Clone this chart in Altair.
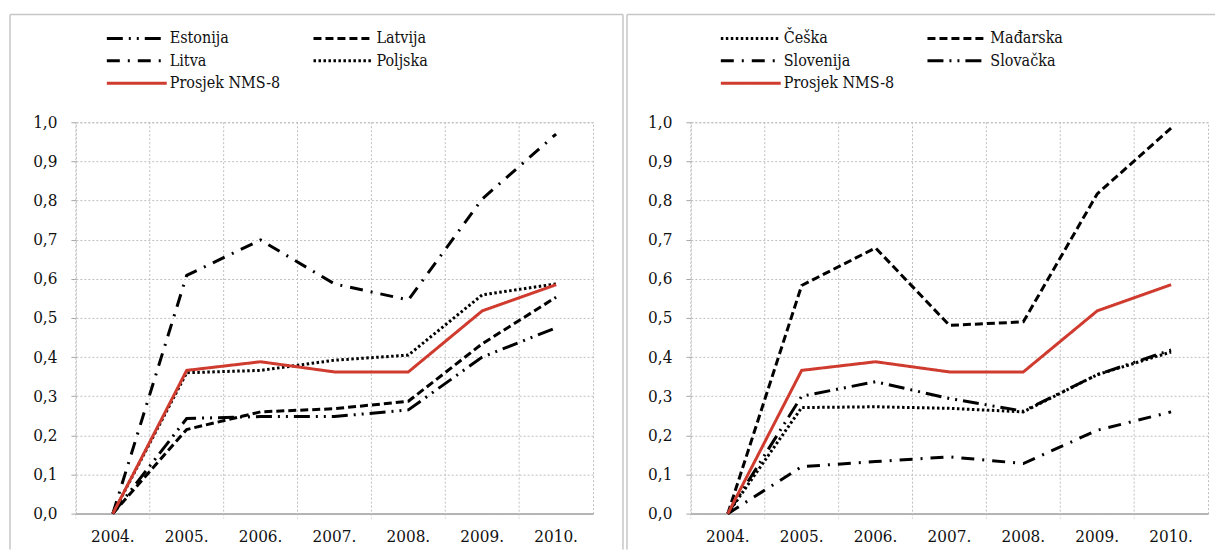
import altair as alt
import pandas as pd

years = ["2004.", "2005.", "2006.", "2007.", "2008.", "2009.", "2010."]

# Left panel series
estonija = [0.0, 0.243, 0.248, 0.248, 0.265, 0.400, 0.475]
latvija = [0.0, 0.215, 0.260, 0.268, 0.287, 0.434, 0.553]
litva = [0.0, 0.609, 0.699, 0.587, 0.546, 0.804, 0.970]
poljska = [0.0, 0.360, 0.366, 0.392, 0.405, 0.559, 0.587]
prosjek = [0.0, 0.366, 0.388, 0.362, 0.362, 0.518, 0.585]

# Right panel series
ceska = [0.0, 0.271, 0.273, 0.269, 0.260, 0.355, 0.413]
madarska = [0.0, 0.583, 0.679, 0.481, 0.490, 0.817, 0.985]
slovenija = [0.0, 0.120, 0.133, 0.145, 0.128, 0.213, 0.260]
slovacka = [0.0, 0.300, 0.337, 0.294, 0.262, 0.355, 0.418]

left_names = ["Estonija", "Latvija", "Litva", "Poljska", "Prosjek NMS-8"]
left_series = [estonija, latvija, litva, poljska, prosjek]
right_names = ["Češka", "Mađarska", "Slovenija", "Slovačka", "Prosjek NMS-8"]
right_series = [ceska, madarska, slovenija, slovacka, prosjek]

RED = "#cf3b2e"
BLACK = "#000000"
DASH_LDD = [16, 6, 2, 6, 2, 6]
DASH_D = [8, 4]
DASH_DD = [13, 8, 2, 8]
DASH_DOT = [2.5, 2.5]
SOLID = [1, 0]

left_dashes = [DASH_LDD, DASH_D, DASH_DD, DASH_DOT, SOLID]
right_dashes = [DASH_DOT, DASH_D, DASH_DD, DASH_LDD, SOLID]

LEG_FONT = "DejaVu Serif Condensed, DejaVu Serif"
AX_FONT = "DejaVu Serif Condensed, DejaVu Serif"
GRID = "#bfbfbf"
W, H = 518, 392

# legend fills columns first: order entries so rows read pairwise
LEG_ORDER = [0, 2, 4, 1, 3]


def panel(names, series, dashes, legend_x, frame):
    rows = []
    for n, vals in zip(names, series):
        for yr, v in zip(years, vals):
            rows.append({"serija": n, "godina": yr, "vrijednost": v})
    df = pd.DataFrame(rows)

    colors = [BLACK] * 4 + [RED]
    dom = [names[i] for i in LEG_ORDER]
    col_range = [colors[i] for i in LEG_ORDER]
    dash_range = [dashes[i] for i in LEG_ORDER]

    xscale = alt.Scale(type="band", paddingInner=0, paddingOuter=0)
    xaxis = alt.Axis(
        labelAngle=0, grid=False, ticks=False, domain=True,
        domainColor="#a6a6a6", domainWidth=1.5, labelPadding=15,
        labelFont=AX_FONT, labelFontSize=17, labelColor="#111111",
    )
    legend = alt.Legend(
        orient="none", legendX=legend_x, legendY=-92, columns=2,
        columnPadding=25, rowPadding=6.5, symbolType="M0,0H60", symbolSize=4,
        symbolStrokeWidth=3, labelOffset=55, labelFontSize=16, labelFont=LEG_FONT,
        labelColor="#111111", title=None,
    )

    lines = alt.Chart(df).mark_line(strokeWidth=3).encode(
        x=alt.X("godina:O", sort=years, scale=xscale, title=None, axis=xaxis),
        y=alt.Y(
            "vrijednost:Q", title=None,
            scale=alt.Scale(domain=[0, 1], nice=False, zero=True),
            axis=alt.Axis(
                values=[i / 10 for i in range(11)],
                labelExpr="replace(format(datum.value, '.1f'), '.', ',')",
                grid=True, gridColor=GRID, gridDash=[2, 2], gridWidth=1,
                domain=False, ticks=True, tickSize=5, tickColor="#a6a6a6",
                labelPadding=14, labelFont=AX_FONT, labelFontSize=17,
                labelColor="#111111",
            ),
        ),
        color=alt.Color(
            "serija:N",
            scale=alt.Scale(domain=dom, range=col_range),
            legend=legend,
        ),
        strokeDash=alt.StrokeDash(
            "serija:N",
            scale=alt.Scale(domain=dom, range=dash_range),
            legend=legend,
        ),
    )

    grid_df = pd.DataFrame({"godina": years})
    vgrid = alt.Chart(grid_df).mark_rule(
        color=GRID, strokeDash=[2, 2], strokeWidth=1
    ).encode(
        x=alt.X("godina:O", sort=years, scale=xscale, bandPosition=0, title=None, axis=xaxis),
        y=alt.value(0), y2=alt.value(H + 5),
    )

    one = pd.DataFrame({"a": [0]})
    fx0, fx1, fy0, fy1, sides = frame
    frame_layers = []
    frame_layers.append(
        alt.Chart(one).mark_rule(color="#c6c6c6", strokeWidth=1.5).encode(
            x=alt.value(fx0), x2=alt.value(fx1), y=alt.value(fy0)
        )
    )
    frame_layers.append(
        alt.Chart(one).mark_rule(color="#c6c6c6", strokeWidth=1.5).encode(
            x=alt.value(fx0), y=alt.value(fy0), y2=alt.value(fy1)
        )
    )
    if sides:
        frame_layers.append(
            alt.Chart(one).mark_rule(color="#c6c6c6", strokeWidth=1.5).encode(
                x=alt.value(fx1), y=alt.value(fy0), y2=alt.value(fy1)
            )
        )

    return alt.layer(vgrid, lines, *frame_layers).properties(width=W, height=H)


left = panel(left_names, left_series, left_dashes, 23, (-66, 548, -108, 428, True))
right = panel(right_names, right_series, right_dashes, 22, (-64, 525, -108, 428, False))

chart = alt.hconcat(left, right, spacing=98, bounds="flush").resolve_scale(
    color="independent", strokeDash="independent"
).properties(
    padding={"left": 0, "top": 4, "right": 0, "bottom": 0}
).configure_view(
    stroke=GRID, strokeDash=[2, 2], strokeWidth=1
)

chart.save("out.html", embed_options={"renderer": "svg", "actions": False})
